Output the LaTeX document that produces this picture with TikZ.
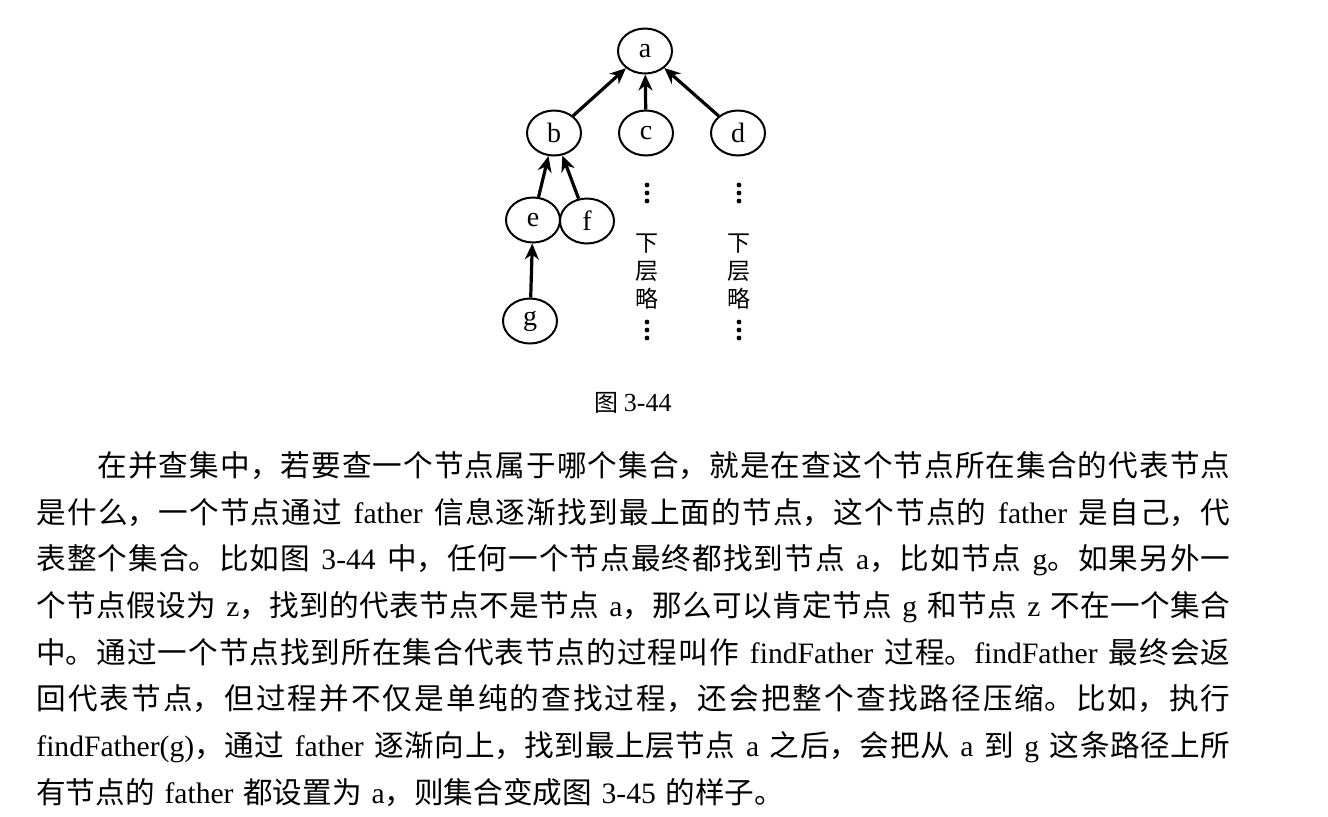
\documentclass[tikz,border=0pt]{standalone}
\usepackage{fontspec}
\setmainfont{Noto Sans CJK SC}
\newfontfamily\latfont{Liberation Serif}
\usetikzlibrary{shapes.geometric}
\usetikzlibrary{arrows.meta}
\XeTeXlinebreaklocale "zh"
\XeTeXlinebreakskip=0pt plus 3pt
\tolerance=10000
\hbadness=10000
\newcommand\en[1]{{\latfont #1}}

\begin{document}
\begin{tikzpicture}
        [
          x=0.5pt, y=-0.5pt,
          every node/.style={inner sep=0pt},
          vertex/.style={ellipse, draw, line width=1pt, minimum width=27pt, minimum height=22.5pt,
            font=\latfont\fontsize{14}{14}\selectfont},
          uplink/.style={line width=1.6pt, -{Stealth[length=8pt,width=7pt]}},
          omitted/.style={align=center, font=\fontsize{11.5}{14}\selectfont},
          body/.style={anchor=north west, text width=597pt, align=justify,
            font=\fontsize{14.8}{23.35}\selectfont}
        ]
        \useasboundingbox (0,0) rectangle (1328,816);

        \node[vertex] (a) at (645,51) {a};
        \node[vertex] (b) at (554,133) {b};
        \node[vertex] (c) at (646,133) {c};
        \node[vertex] (d) at (738,133) {d};
        \node[vertex] (e) at (533,220) {e};
        \node[vertex] (f) at (587,221) {f};
        \node[vertex] (g) at (530,321) {g};

        \draw[uplink] (b) -- (a);
        \draw[uplink] (c) -- (a);
        \draw[uplink] (d) -- (a);
        \draw[uplink] (e) -- (b);
        \draw[uplink] (f) -- (b);
        \draw[uplink] (g) -- (e);

        \foreach \x in {647,739}
          \foreach \y in {185,193,201,322,330,338}
            \fill (\x,\y) circle (1.2pt);
        \node[omitted] (lc) at (647,272) {下\\层\\略};
        \node[omitted] (ld) at (739,272) {下\\层\\略};

        \node[font=\fontsize{12}{12}\selectfont] (cap) at (633,403) {图 \en{\fontsize{13}{13}\selectfont 3-44}};

        \node[body] (para) at (36,451) {\spaceskip=0.33em plus 0.3em minus 0.05em
\hspace*{30.6pt}在并查集中，若要查一个节点属于哪个集合，就是在查这个节点所在集合的代表节点\linebreak
是什么，一个节点通过 \en{father} 信息逐渐找到最上面的节点，这个节点的 \en{father} 是自己，代\linebreak
表整个集合。比如图 \en{3-44} 中，任何一个节点最终都找到节点 \en{a}，比如节点 \en{g}。如果另外一\linebreak
个节点假设为 \en{z}，找到的代表节点不是节点 \en{a}，那么可以肯定节点 \en{g} 和节点 \en{z} 不在一个集合\linebreak
中。通过一个节点找到所在集合代表节点的过程叫作 \en{findFather} 过程。\en{findFather} 最终会返\linebreak
回代表节点，但过程并不仅是单纯的查找过程，还会把整个查找路径压缩。比如，执行\linebreak
\en{findFather(g)}，通过 \en{father} 逐渐向上，找到最上层节点 \en{a} 之后，会把从 \en{a} 到 \en{g} 这条路径上所\linebreak
有节点的 \en{father} 都设置为 \en{a}，则集合变成图 \en{3-45} 的样子。};
    \end{tikzpicture}
\end{document}
